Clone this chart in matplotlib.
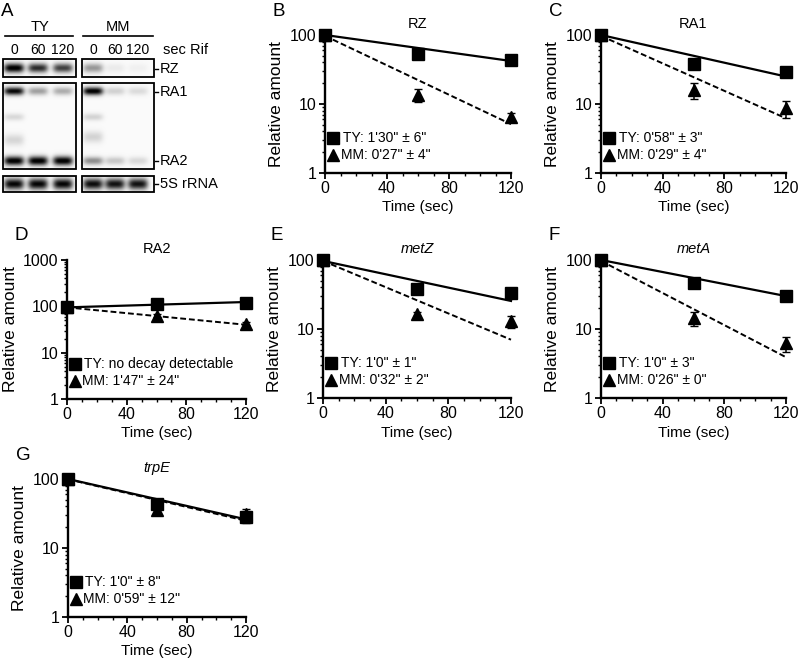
import numpy as np
import matplotlib.pyplot as plt
from matplotlib.patches import Rectangle
from matplotlib.ticker import MultipleLocator, LogLocator, NullFormatter

plt.rcParams['font.family'] = ['Liberation Sans', 'DejaVu Sans']
plt.rcParams['font.size'] = 10

# ---- gel (panel A): relative band darkness per lane (0, 60, 120 sec) ----
lane_labels = ["0", "60", "120"]
rz_ty_band = [1.0, 0.8, 0.72]
rz_mm_band = [0.38, 0.06, 0.04]
ra1_ty_band = [0.95, 0.35, 0.3]
ra1_mm_band = [1.0, 0.16, 0.12]
ra2_ty_band = [1.0, 1.0, 1.0]
ra2_mm_band = [0.42, 0.2, 0.13]
mid1_ty_band = [0.13, 0.0, 0.0]
mid1_mm_band = [0.15, 0.0, 0.0]
mid2_ty_band = [0.14, 0.0, 0.0]
mid2_mm_band = [0.15, 0.0, 0.0]
s5_ty_band = [0.95, 0.95, 0.95]
s5_mm_band = [0.92, 0.9, 0.9]

# ---- decay curves (panels B-G) ----
time = [0, 60, 120]
fit_time = [0, 120]

rz_ty = [100, 53, 43]
rz_ty_err = [0, 2, 2]
rz_mm = [100, 13.6, 6.5]
rz_mm_err = [0, 3, 1]
rz_ty_fit = [100, 42]
rz_mm_fit = [97, 5.1]

ra1_ty = [100, 38, 29.5]
ra1_ty_err = [0, 2, 2]
ra1_mm = [100, 16, 8.7]
ra1_mm_err = [0, 4, 2.5]
ra1_ty_fit = [100, 25]
ra1_mm_fit = [97, 6.2]

ra2_ty = [97, 112, 118]
ra2_ty_err = [0, 5, 5]
ra2_mm = [97, 63, 42]
ra2_mm_err = [0, 5, 3]
ra2_ty_fit = [95, 124]
ra2_mm_fit = [95, 40]

metz_ty = [100, 38, 33]
metz_ty_err = [0, 2, 2]
metz_mm = [100, 16.4, 13]
metz_mm_err = [0, 1, 2.5]
metz_ty_fit = [97, 25.5]
metz_mm_fit = [97, 7]

meta_ty = [100, 46, 30.5]
meta_ty_err = [0, 2, 2]
meta_mm = [100, 14.3, 6.2]
meta_mm_err = [0, 3.2, 1.5]
meta_ty_fit = [100, 30]
meta_mm_fit = [97, 3.9]

trpe_ty = [100, 42.8, 28.4]
trpe_ty_err = [0, 3, 5]
trpe_mm = [100, 35.4, 31]
trpe_mm_err = [0, 3, 6]
trpe_ty_fit = [100, 26]
trpe_mm_fit = [99, 24.8]

W, H = 800, 664
fig = plt.figure(figsize=(W / 100, H / 100), dpi=100)


def px_axes(left, top, right, bottom, **kw):
    return fig.add_axes([left / W, 1 - bottom / H, (right - left) / W, (bottom - top) / H], **kw)


# ---------------- panel A ----------------
axg = px_axes(0, 0, 270, 230)
axg.set_xlim(0, 270)
axg.set_ylim(230, 0)
axg.axis("off")

ty_lanes = [14, 38, 63]
mm_lanes = [93, 115, 138]


def gel_box(x0, x1, y0, y1, lanes, bands):
    xs = np.linspace(x0, x1, int((x1 - x0) * 3))
    ys = np.linspace(y0, y1, int((y1 - y0) * 3))
    X, Y = np.meshgrid(xs, ys)
    img = np.zeros_like(X)
    for yc, sig, vals in bands:
        for xc, v in zip(lanes, vals):
            img += v * np.exp(-((X - xc) / 10.0) ** 4) * np.exp(-0.5 * ((Y - yc) / sig) ** 2)
    img = np.clip(img * 1.05, 0, 1) * 0.97 + 0.02
    axg.imshow(img, cmap="gray_r", vmin=0, vmax=1, extent=(x0, x1, y1, y0),
               aspect="auto", interpolation="bilinear")
    axg.add_patch(Rectangle((x0, y0), x1 - x0, y1 - y0, fill=False, lw=1.3, ec="black"))


gel_box(3, 76, 59, 77, ty_lanes, [(68, 3.3, rz_ty_band)])
gel_box(82, 154, 59, 77, mm_lanes, [(68, 3.3, rz_mm_band)])
gel_box(3, 76, 83, 169, ty_lanes, [(91, 2.8, ra1_ty_band), (117, 2.5, mid1_ty_band),
                                    (140, 4, mid2_ty_band), (161, 3.2, ra2_ty_band)])
gel_box(82, 154, 83, 169, mm_lanes, [(91, 2.8, ra1_mm_band), (117, 2.5, mid1_mm_band),
                                      (137, 4, mid2_mm_band), (161, 2.8, ra2_mm_band)])
gel_box(3, 76, 176, 192, ty_lanes, [(184, 4, s5_ty_band)])
gel_box(82, 154, 176, 192, mm_lanes, [(184, 4, s5_mm_band)])

axg.text(1, 11, "A", fontsize=13.5, ha="left", va="center")
axg.text(40, 27, "TY", ha="center", va="center", fontsize=10.5)
axg.text(118, 27, "MM", ha="center", va="center", fontsize=10.5)
axg.plot([5, 73], [36, 36], color="black", lw=1.2)
axg.plot([83, 153], [36, 36], color="black", lw=1.2)
for xc, lab in zip(ty_lanes + mm_lanes, lane_labels + lane_labels):
    axg.text(xc, 50, lab, ha="center", va="center", fontsize=10)
axg.text(163, 50, "sec Rif", ha="left", va="center", fontsize=10.5)
for yc, lab in [(69, "RZ"), (92, "RA1"), (161, "RA2"), (184, "5S rRNA")]:
    axg.plot([155, 157.5], [yc, yc], color="black", lw=1)
    axg.text(159.5, yc, lab, ha="left", va="center", fontsize=10.5)


# ---------------- panels B-G ----------------
def decay_panel(box, letter, title, italic, ty, ty_err, mm, mm_err, ty_fit, mm_fit,
                ty_text, mm_text, ymax=100):
    ax = px_axes(*box)
    ax.set_yscale("log")
    ax.set_ylim(1, ymax)
    ax.set_xlim(0, 120)
    ax.plot(fit_time, ty_fit, color="black", lw=1.6, clip_on=False)
    ax.plot(fit_time, mm_fit, color="black", lw=1.4, ls=(0, (3, 1.5)), clip_on=False)
    ax.errorbar(time, mm, yerr=mm_err, fmt="^", color="black", ms=9, capsize=3,
                elinewidth=1.1, clip_on=False)
    ax.errorbar(time, ty, yerr=ty_err, fmt="s", color="black", ms=8, capsize=3,
                elinewidth=1.1, clip_on=False)
    for s in ["top", "right"]:
        ax.spines[s].set_visible(False)
    for s in ["left", "bottom"]:
        ax.spines[s].set_linewidth(1.7)
    ticks = [10 ** k for k in range(int(np.log10(ymax)) + 1)]
    ax.set_yticks(ticks)
    ax.set_yticklabels([str(t) for t in ticks])
    ax.yaxis.set_minor_locator(LogLocator(base=10, subs=np.arange(2, 10)))
    ax.yaxis.set_minor_formatter(NullFormatter())
    ax.set_xticks([0, 40, 80, 120])
    ax.xaxis.set_minor_locator(MultipleLocator(10))
    ax.tick_params(which="major", direction="out", length=4, width=1.3, labelsize=11.5, pad=2)
    ax.tick_params(which="minor", direction="out", length=2.5, width=1)
    ax.set_ylabel("Relative amount", fontsize=12.5, labelpad=4)
    ax.set_xlabel("Time (sec)", fontsize=11, labelpad=3)
    ax.set_title(title, fontsize=10.5, style="italic" if italic else "normal", pad=5)
    # in-plot key
    ax.plot([0.045], [0.253], "s", color="black", ms=8, transform=ax.transAxes, clip_on=False)
    ax.text(0.095, 0.253, ty_text, transform=ax.transAxes, va="center", ha="left", fontsize=10)
    ax.plot([0.045], [0.133], "^", color="black", ms=8.5, transform=ax.transAxes, clip_on=False)
    ax.text(0.085, 0.133, mm_text, transform=ax.transAxes, va="center", ha="left", fontsize=10)
    left, top = box[0], box[1]
    fig.text((left - 52) / W, 1 - (top - 24) / H, letter, fontsize=13.5, ha="left", va="center")
    return ax


decay_panel((325, 35, 511, 173), "B", "RZ", False, rz_ty, rz_ty_err, rz_mm, rz_mm_err,
            rz_ty_fit, rz_mm_fit, "TY: 1'30\" \u00b1 6\"", "MM: 0'27\" \u00b1 4\"")
decay_panel((601, 35, 786, 173), "C", "RA1", False, ra1_ty, ra1_ty_err, ra1_mm, ra1_mm_err,
            ra1_ty_fit, ra1_mm_fit, "TY: 0'58\" \u00b1 3\"", "MM: 0'29\" \u00b1 4\"")
decay_panel((67, 260, 246, 399), "D", "RA2", False, ra2_ty, ra2_ty_err, ra2_mm, ra2_mm_err,
            ra2_ty_fit, ra2_mm_fit, "TY: no decay detectable", "MM: 1'47\" \u00b1 24\"",
            ymax=1000)
decay_panel((323, 260, 511, 398), "E", "metZ", True, metz_ty, metz_ty_err, metz_mm, metz_mm_err,
            metz_ty_fit, metz_mm_fit, "TY: 1'0\" \u00b1 1\"", "MM: 0'32\" \u00b1 2\"")
decay_panel((601, 260, 786, 398), "F", "metA", True, meta_ty, meta_ty_err, meta_mm, meta_mm_err,
            meta_ty_fit, meta_mm_fit, "TY: 1'0\" \u00b1 3\"", "MM: 0'26\" \u00b1 0\"")
decay_panel((68, 479, 246, 617), "G", "trpE", True, trpe_ty, trpe_ty_err, trpe_mm, trpe_mm_err,
            trpe_ty_fit, trpe_mm_fit, "TY: 1'0\" \u00b1 8\"", "MM: 0'59\" \u00b1 12\"")

fig.savefig("out.png", dpi=100)
